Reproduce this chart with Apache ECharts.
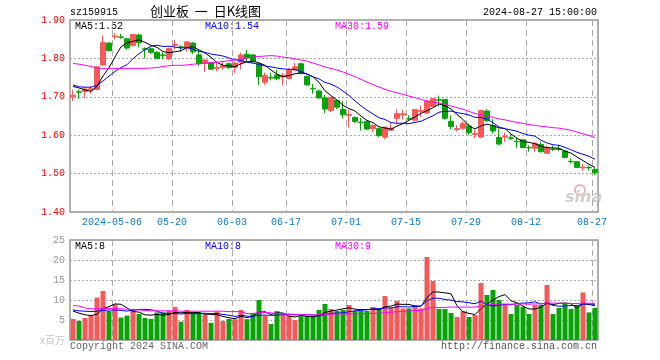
<!DOCTYPE html>
<html><head><meta charset="utf-8">
<script src="https://cdn.jsdelivr.net/npm/echarts@6/dist/echarts.min.js"></script>
<style>html,body{margin:0;padding:0;background:#fff}#c{width:660px;height:360px}</style>
</head><body><div id="c"></div>
<script>
const dates = ['2024-04-22','2024-04-23','2024-04-24','2024-04-25','2024-04-26','2024-04-29','2024-04-30',
'2024-05-06','2024-05-07','2024-05-08','2024-05-09','2024-05-10','2024-05-13','2024-05-14','2024-05-15','2024-05-16','2024-05-17',
'2024-05-20','2024-05-21','2024-05-22','2024-05-23','2024-05-24','2024-05-27','2024-05-28','2024-05-29','2024-05-30','2024-05-31',
'2024-06-03','2024-06-04','2024-06-05','2024-06-06','2024-06-07','2024-06-11','2024-06-12','2024-06-13','2024-06-14',
'2024-06-17','2024-06-18','2024-06-19','2024-06-20','2024-06-21','2024-06-24','2024-06-25','2024-06-26','2024-06-27','2024-06-28',
'2024-07-01','2024-07-02','2024-07-03','2024-07-04','2024-07-05','2024-07-08','2024-07-09','2024-07-10','2024-07-11','2024-07-12',
'2024-07-15','2024-07-16','2024-07-17','2024-07-18','2024-07-19','2024-07-22','2024-07-23','2024-07-24','2024-07-25','2024-07-26',
'2024-07-29','2024-07-30','2024-07-31','2024-08-01','2024-08-02','2024-08-05','2024-08-06','2024-08-07','2024-08-08','2024-08-09',
'2024-08-12','2024-08-13','2024-08-14','2024-08-15','2024-08-16','2024-08-19','2024-08-20','2024-08-21','2024-08-22','2024-08-23',
'2024-08-26','2024-08-27'];
const opens = [1.700,1.713,1.714,1.718,1.719,1.783,1.840,1.856,1.856,1.851,1.834,1.861,1.825,1.825,1.816,1.809,1.799,1.834,1.830,1.825,
1.840,1.809,1.787,1.788,1.774,1.777,1.786,1.776,1.790,1.811,1.809,1.786,1.738,1.750,1.757,1.752,1.748,1.770,1.786,1.753,
1.722,1.715,1.697,1.664,1.691,1.667,1.651,1.646,1.634,1.636,1.617,1.617,1.595,1.613,1.644,1.653,1.643,1.639,1.662,1.658,
1.675,1.692,1.693,1.636,1.615,1.618,1.624,1.602,1.595,1.663,1.625,1.594,1.595,1.593,1.584,1.588,1.568,1.566,1.576,1.553,
1.564,1.564,1.559,1.532,1.531,1.515,1.516,1.511];
const closes = [1.704,1.712,1.720,1.721,1.778,1.841,1.820,1.858,1.855,1.827,1.862,1.841,1.824,1.816,1.800,1.808,1.826,1.836,1.829,1.843,
1.817,1.786,1.796,1.772,1.776,1.781,1.776,1.788,1.809,1.801,1.791,1.752,1.756,1.749,1.747,1.756,1.770,1.778,1.761,1.731,
1.721,1.697,1.668,1.699,1.673,1.653,1.654,1.636,1.633,1.616,1.625,1.599,1.621,1.618,1.656,1.656,1.642,1.667,1.664,1.689,
1.695,1.691,1.644,1.623,1.617,1.630,1.607,1.604,1.664,1.638,1.611,1.577,1.597,1.592,1.583,1.568,1.567,1.579,1.557,1.568,
1.563,1.563,1.542,1.531,1.516,1.517,1.515,1.502];
const lows = [1.689,1.695,1.697,1.708,1.717,1.780,1.818,1.849,1.851,1.823,1.831,1.829,1.800,1.812,1.798,1.798,1.795,1.824,1.817,1.817,
1.812,1.780,1.765,1.771,1.767,1.770,1.773,1.762,1.771,1.790,1.788,1.731,1.731,1.743,1.743,1.730,1.746,1.768,1.759,1.729,
1.708,1.696,1.657,1.660,1.668,1.644,1.620,1.632,1.612,1.614,1.608,1.595,1.590,1.611,1.631,1.641,1.638,1.638,1.648,1.655,
1.674,1.675,1.640,1.615,1.610,1.614,1.600,1.592,1.593,1.634,1.605,1.574,1.583,1.587,1.567,1.567,1.557,1.557,1.555,1.552,
1.559,1.559,1.541,1.526,1.515,1.508,1.508,1.496];
const highs = [1.719,1.719,1.726,1.728,1.781,1.860,1.841,1.866,1.864,1.853,1.864,1.864,1.829,1.829,1.818,1.816,1.828,1.848,1.834,1.845,
1.842,1.822,1.797,1.790,1.789,1.790,1.789,1.790,1.815,1.822,1.811,1.790,1.763,1.763,1.770,1.762,1.775,1.789,1.789,1.755,
1.734,1.719,1.705,1.700,1.692,1.689,1.667,1.649,1.645,1.638,1.628,1.620,1.622,1.633,1.667,1.666,1.652,1.668,1.678,1.690,
1.697,1.703,1.694,1.651,1.626,1.637,1.630,1.614,1.665,1.668,1.642,1.616,1.607,1.602,1.593,1.589,1.574,1.582,1.582,1.573,
1.573,1.574,1.560,1.539,1.533,1.525,1.521,1.516];
const volumes = [5.25,4.75,5.5,6.1,10.6,12.25,7.25,8.9,5.6,6.1,
7.75,6.5,5.5,5.25,6.9,6.9,7.25,8.3,4.6,7.5,
6.9,6.9,6.4,4.3,7.1,4.75,5.25,5.2,7.5,5.2,
6.7,10.0,6.0,4.0,7.2,6.6,6.0,5.0,6.0,6.0,
6.0,7.5,9.0,7.75,7.25,7.5,8.75,7.25,7.25,7.25,
8.25,7.9,11.0,8.0,9.75,7.9,7.9,8.75,7.9,20.75,
14.75,7.75,7.75,6.75,5.75,7.25,5.75,6.25,14.25,11.25,
12.5,10.0,8.75,6.5,8.75,8.25,6.5,8.75,8.75,13.75,
6.5,8.0,9.25,7.75,8.5,11.9,6.9,8.0];
const ma5Head = [1.727,1.723,1.718,1.714];
const ma10Head = [1.731,1.726,1.725,1.725,1.730,1.741,1.754,1.766,1.776];
const ma30Head = [1.787,1.785,1.782,1.779,1.775,1.774,1.774,1.774,1.774,1.774,1.774,1.774,1.774,1.775,1.776,1.779,1.781,1.782,1.782,1.783,1.785,1.786,1.788,1.789,1.790,1.792,1.794,1.796,1.798];
const vma5Head = [7.25,6.7,6.3,6.1];
const vma10Head = [7.5,7.3,7.2,7.1,7.2,7.4,7.5,7.5,7.4];
const vma30Head = [8.6,8.5,8.0,7.8,7.8,7.9,7.9,7.9,7.8,7.7,7.6,7.5,7.4,7.3,7.3,7.3,7.3,7.3,7.2,7.2,7.2,7.2,7.2,7.2,7.2,7.2,7.1,7.1,7.1];
const labelIdx = [7,17,27,36,46,56,66,76,87];

function movingAvg(src, n, head){
  return src.map((v,i)=>{
    if(i < n-1) return head[i];
    let s=0; for(let k=i-n+1;k<=i;k++) s+=src[k];
    return s/n;
  });
}
const ma5 = movingAvg(closes,5,ma5Head), ma10 = movingAvg(closes,10,ma10Head), ma30 = movingAvg(closes,30,ma30Head);
const vma5 = movingAvg(volumes,5,vma5Head), vma10 = movingAvg(volumes,10,vma10Head), vma30 = movingAvg(volumes,30,vma30Head);
const last = a => a[a.length-1];

const RED = '#f65959', GREEN = '#08a308';
const mono = '"Liberation Mono","DejaVu Sans Mono",monospace';
const labelSet = new Set(labelIdx);
const kData = dates.map((d,i)=>[opens[i],closes[i],lows[i],highs[i]]);
const vData = volumes.map((v,i)=>({value:v,itemStyle:{color: closes[i]>=opens[i]?RED:GREEN}}));

const chart = echarts.init(document.getElementById('c'), null, {renderer:'canvas'});
const xAxisBase = (gi, showLabel) => ({
  type:'category', gridIndex:gi, data:dates, boundaryGap:true,
  axisLine:{show:false}, axisTick:{show:false},
  axisLabel:{show:showLabel, interval:(i)=>labelSet.has(i), formatter:(v,i)=> i===7 ? v : v.slice(5),
    color:'#0a78cf', fontFamily:mono, fontSize:10, margin:5, padding:[0,6,0,0]},
  splitLine:{show:true, interval:(i)=>labelSet.has(i), lineStyle:{color:'#aaaaaa', type:[6,4], width:1}}
});
const lineS = (name, data, color, xi) => ({name, type:'line', xAxisIndex:xi, yAxisIndex:xi, data, showSymbol:false, symbol:'none',
  lineStyle:{color, width:1}, z:5, silent:true});
chart.setOption({
  animation:false,
  grid:[
    {left:70, top:20, width:528, height:192, show:true, borderColor:'#999', borderWidth:1.5, backgroundColor:'transparent'},
    {left:70, top:240, width:528, height:100, show:true, borderColor:'#999', borderWidth:1.5, backgroundColor:'transparent'}
  ],
  xAxis:[xAxisBase(0,true), xAxisBase(1,false)],
  yAxis:[
    {type:'value', gridIndex:0, min:1.4, max:1.9, interval:0.1, axisLine:{show:false}, axisTick:{show:false},
     axisLabel:{color:'#f00', formatter:v=>v.toFixed(2), fontFamily:mono, fontSize:10, margin:5},
     splitLine:{lineStyle:{color:'#aaaaaa', type:[2,2]}}},
    {type:'value', gridIndex:1, min:0, max:25, interval:5, axisLine:{show:false}, axisTick:{show:false},
     axisLabel:{color:'#999', formatter:v=> v===0 ? '{u|x百万}' : String(v), fontFamily:mono, fontSize:10, margin:5,
       rich:{u:{color:'#c8c8c8', fontFamily:'"Noto Sans CJK SC",sans-serif', fontSize:10}}},
     splitLine:{lineStyle:{color:'#aaaaaa', type:[2,2]}}}
  ],
  series:[
    {type:'candlestick', xAxisIndex:0, yAxisIndex:0, data:kData, barWidth:5,
     itemStyle:{color:RED, color0:GREEN, borderColor:RED, borderColor0:GREEN, borderWidth:1}, z:3},
    lineS('MA5', ma5, '#000', 0), lineS('MA10', ma10, '#0000ff', 0), lineS('MA30', ma30, '#ff00ff', 0),
    {type:'bar', xAxisIndex:1, yAxisIndex:1, data:vData, barWidth:5, z:3},
    lineS('VMA5', vma5, '#000', 1), lineS('VMA10', vma10, '#0000ff', 1), lineS('VMA30', vma30, '#ff00ff', 1)
  ],
  graphic:[
    {type:'text', left:70, top:7, style:{text:'sz159915', fill:'#000', font:'10px '+mono}},
    {type:'text', left:150, top:5, style:{text:'创业板  一  日K线图', fill:'#000', font:'13px "Noto Sans CJK SC",sans-serif'}},
    {type:'text', right:63, top:7, style:{text:'2024-08-27 15:00:00', fill:'#000', font:'10px '+mono}},
    {type:'text', left:75, top:21, style:{text:'MA5:'+last(ma5).toFixed(2), fill:'#000', font:'10px '+mono}},
    {type:'text', left:205, top:21, style:{text:'MA10:'+last(ma10).toFixed(2), fill:'#0000ff', font:'10px '+mono}},
    {type:'text', left:335, top:21, style:{text:'MA30:'+last(ma30).toFixed(2), fill:'#ff00ff', font:'10px '+mono}},
    {type:'text', left:75, top:241, style:{text:'MA5:'+Math.floor(last(vma5)), fill:'#000', font:'10px '+mono}},
    {type:'text', left:205, top:241, style:{text:'MA10:'+Math.floor(last(vma10)), fill:'#0000ff', font:'10px '+mono}},
    {type:'text', left:335, top:241, style:{text:'MA30:'+Math.floor(last(vma30)), fill:'#ff00ff', font:'10px '+mono}},
    {type:'text', left:70, top:341, style:{text:'Copyright 2024 SINA.COM', fill:'#666', font:'10px '+mono}},
    {type:'text', right:63, top:341, style:{text:'http://finance.sina.com.cn', fill:'#555', font:'10px '+mono}},
    {type:'circle', shape:{cx:580, cy:190, r:5}, style:{fill:'none', stroke:'#f3b3b3', lineWidth:2}},
    {type:'text', left:565, top:190, style:{text:'sina', fill:'#cfcfcf', font:'italic bold 16px "DejaVu Sans",sans-serif'}}
  ]
});
</script></body></html>
